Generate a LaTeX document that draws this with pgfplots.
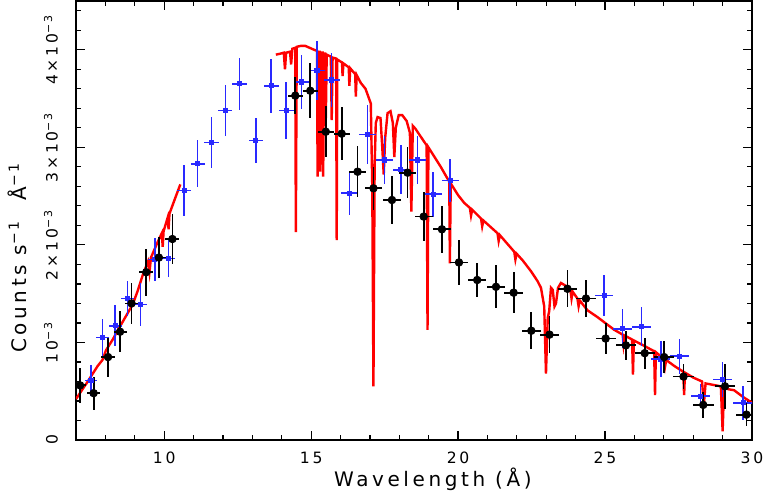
\documentclass[border=0pt]{standalone}
\usepackage{fontspec}
\setmainfont[LetterSpace=18]{DejaVu Sans}
\usepackage{pgfplots}
\pgfplotsset{compat=1.18}
\usepackage{pgfplotstable}
\definecolor{xblue}{rgb}{0.16,0.16,1}

% black data: wavelength, counts (1e-3), x half width, y error
\pgfplotstableread{
x y ex ey
7.14 0.56 0.20 0.18
7.60 0.48 0.23 0.17
8.09 0.85 0.24 0.20
8.50 1.11 0.22 0.21
8.89 1.40 0.22 0.21
9.39 1.72 0.24 0.24
9.82 1.87 0.24 0.21
10.28 2.06 0.24 0.26
14.46 3.53 0.25 0.19
14.97 3.58 0.26 0.28
15.50 3.16 0.27 0.26
16.04 3.14 0.27 0.27
16.58 2.75 0.28 0.26
17.12 2.58 0.28 0.22
17.75 2.46 0.30 0.25
18.28 2.74 0.30 0.26
18.83 2.29 0.30 0.25
19.45 2.16 0.30 0.24
20.03 1.82 0.31 0.23
20.65 1.64 0.31 0.17
21.29 1.57 0.32 0.22
21.89 1.51 0.32 0.21
22.49 1.12 0.32 0.19
23.11 1.08 0.32 0.19
23.72 1.55 0.33 0.19
24.35 1.45 0.33 0.19
25.02 1.04 0.34 0.16
25.71 0.97 0.34 0.15
26.35 0.89 0.34 0.16
27.01 0.85 0.34 0.16
27.67 0.65 0.35 0.13
28.34 0.36 0.35 0.13
29.08 0.55 0.35 0.23
29.81 0.26 0.36 0.12
}\blackdata

% blue data
\pgfplotstableread{
x y ex ey
7.51 0.61 0.22 0.16
7.91 1.05 0.22 0.19
8.33 1.17 0.22 0.21
8.76 1.45 0.22 0.18
9.19 1.39 0.22 0.22
9.68 1.85 0.23 0.22
10.15 1.86 0.23 0.19
10.68 2.56 0.23 0.26
11.14 2.83 0.24 0.24
11.61 3.05 0.24 0.26
12.08 3.38 0.24 0.26
12.57 3.65 0.25 0.27
13.12 3.07 0.25 0.23
13.64 3.63 0.26 0.28
14.15 3.38 0.26 0.29
14.68 3.67 0.26 0.28
15.20 3.79 0.27 0.30
15.70 3.69 0.27 0.28
16.30 2.53 0.27 0.22
16.92 3.13 0.28 0.30
17.49 2.87 0.28 0.25
18.05 2.77 0.28 0.25
18.62 2.87 0.29 0.25
19.15 2.52 0.29 0.23
19.73 2.66 0.29 0.22
24.97 1.48 0.30 0.21
25.59 1.14 0.31 0.20
26.24 1.16 0.31 0.20
26.90 0.83 0.32 0.18
27.54 0.86 0.32 0.18
28.24 0.45 0.33 0.12
29.00 0.62 0.33 0.18
29.70 0.38 0.33 0.17
}\bluedata

% model, short wavelength piece
\pgfplotstableread{
x y
7.00 0.42
7.40 0.60
7.74 0.76
7.90 0.82
8.02 0.92
8.25 1.03
8.47 1.15
8.70 1.27
8.93 1.39
9.10 1.53
9.27 1.69
9.45 1.83
9.50 1.72
9.55 1.87
9.78 2.03
9.92 2.12
9.95 1.98
9.98 2.14
10.12 2.28
10.15 2.16
10.18 2.32
10.40 2.50
10.55 2.62
}\modela

% model, long wavelength piece
\pgfplotstableread{
x y
13.80 3.95
13.95 3.96
14.07 3.97
14.11 3.80
14.15 3.97
14.28 3.98
14.32 3.85
14.36 4.01
14.46 4.02
14.48 2.13
14.51 4.03
14.65 4.04
14.80 4.04
14.95 4.02
15.10 4.00
15.20 3.99
15.22 2.70
15.25 3.98
15.29 3.98
15.31 2.75
15.34 3.97
15.39 3.97
15.41 2.70
15.44 3.96
15.48 3.96
15.50 3.30
15.53 3.95
15.67 3.93
15.70 3.28
15.73 3.92
15.85 3.91
15.87 2.05
15.89 3.90
16.05 3.87
16.07 3.73
16.10 3.86
16.28 3.82
16.30 3.63
16.33 3.81
16.50 3.75
16.52 3.52
16.55 3.74
16.69 3.66
16.85 3.60
17.03 3.45
17.08 2.60
17.12 0.55
17.16 2.80
17.20 3.25
17.26 3.31
17.36 3.30
17.42 3.00
17.47 2.72
17.52 3.10
17.60 3.35
17.70 3.37
17.78 3.25
17.83 2.90
17.88 3.20
17.98 3.33
18.10 3.33
18.25 3.27
18.36 3.15
18.41 2.34
18.46 3.22
18.55 3.19
18.75 3.10
18.93 3.02
18.96 1.13
18.99 3.00
19.20 2.90
19.41 2.80
19.60 2.70
19.70 2.65
19.72 1.81
19.75 2.63
20.00 2.51
20.21 2.43
20.40 2.38
20.44 2.30
20.48 2.36
20.78 2.27
20.82 2.19
20.86 2.25
21.34 2.12
21.38 2.04
21.42 2.10
21.91 1.93
21.95 1.85
21.99 1.91
22.20 1.84
22.48 1.73
22.70 1.63
22.82 1.56
22.93 1.37
22.99 0.68
23.05 1.25
23.10 1.32
23.16 1.56
23.22 1.54
23.28 1.37
23.33 1.40
23.40 1.56
23.50 1.61
23.72 1.57
23.82 1.54
23.86 1.45
23.90 1.52
24.06 1.45
24.10 1.37
24.14 1.43
24.40 1.33
24.74 1.26
25.31 1.13
25.60 1.08
25.63 0.98
25.67 1.07
25.92 1.03
25.95 0.67
25.98 1.02
26.30 0.97
26.67 0.91
26.70 0.46
26.73 0.90
27.00 0.83
27.04 0.75
27.08 0.82
27.35 0.76
27.66 0.70
27.69 0.46
27.72 0.69
28.00 0.64
28.30 0.60
28.36 0.36
28.42 0.58
28.94 0.55
29.00 0.09
29.05 0.54
29.20 0.52
29.39 0.51
29.70 0.44
29.96 0.39
30.00 0.39
}\modelb

\begin{document}
\begin{tikzpicture}
\begin{axis}[
    scale only axis,
    width=338pt, height=219.5pt,
    xmin=7, xmax=30, ymin=0, ymax=4.5,
    axis line style={line width=0.75pt},
    every tick/.style={black, line width=0.6pt},
    tick align=inside,
    major tick length=4.6pt,
    minor tick length=2.4pt,
    xtick={10,15,20,25,30},
    minor xtick={7,8,...,30},
    ytick={0,1,2,3,4},
    yticklabels={0, 10\textsuperscript{−3}, 2×10\textsuperscript{−3}, 3×10\textsuperscript{−3}, 4×10\textsuperscript{−3}},
    minor ytick={0.2,0.4,...,4.4},
    /pgf/number format/assume math mode=true,
    tick label style={font=\fontsize{7.8}{9}\selectfont},
    xticklabel shift=2.5pt,
    yticklabel style={rotate=90, anchor=south},
    yticklabel shift=5.5pt,
    label style={font=\fontsize{8.7}{10}\selectfont},
    xlabel={Wavelength (Å)},
    ylabel={Counts s\textsuperscript{−1}\ \ Å\textsuperscript{−1}},
    every axis x label/.style={at={(rel axis cs:0.528,-0.1048)}, anchor=base},
    every axis y label/.style={at={(rel axis cs:-0.0873,0.415)}, rotate=90, anchor=center},
    clip=true,
]
\addplot[red, line width=1.2pt, no marks] table[x=x, y=y] {\modela};
\addplot[red, line width=1.2pt, no marks] table[x=x, y=y] {\modelb};
\addplot[xblue, line width=0.75pt, only marks, mark=square*, mark size=0.9pt,
    error bars/.cd, x dir=both, x explicit, y dir=both, y explicit,
    error mark=none, error bar style={xblue, line width=0.75pt}]
    table[x=x, y=y, x error=ex, y error=ey] {\bluedata};
\addplot[black, only marks, mark=*, mark size=1.9pt,
    error bars/.cd, x dir=both, x explicit, y dir=both, y explicit,
    error mark=none, error bar style={black, line width=0.9pt}]
    table[x=x, y=y, x error=ex, y error=ey] {\blackdata};
\end{axis}
\pgfresetboundingbox
\path ([shift={(-38pt,-25.5pt)}]current axis.south west) rectangle ([shift={(5.5pt,0.5pt)}]current axis.north east);
\end{tikzpicture}
\end{document}
